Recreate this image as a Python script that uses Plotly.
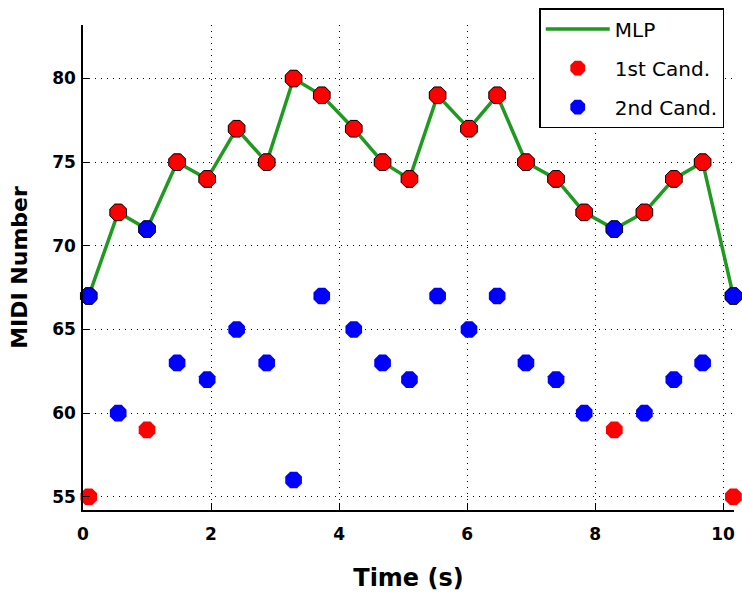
import plotly.graph_objects as go

time_s = [0.09, 0.55, 1.00, 1.47, 1.94, 2.40, 2.87, 3.29, 3.73, 4.23, 4.68, 5.10,
          5.54, 6.03, 6.47, 6.92, 7.39, 7.83, 8.30, 8.77, 9.23, 9.68, 10.16]
mlp = [67, 72, 71, 75, 74, 77, 75, 80, 79, 77, 75, 74,
       79, 77, 79, 75, 74, 72, 71, 72, 74, 75, 67]
cand1 = [55, 72, 59, 75, 74, 77, 75, 80, 79, 77, 75, 74,
         79, 77, 79, 75, 74, 72, 59, 72, 74, 75, 55]
cand2 = [67, 60, 71, 63, 62, 65, 63, 56, 67, 65, 63, 62,
         67, 65, 67, 63, 62, 60, 71, 60, 62, 63, 67]

x_ticks = [0, 2, 4, 6, 8, 10]
y_ticks = [55, 60, 65, 70, 75, 80]

GREEN = "#1f991f"
RED = "#ff0000"
BLUE = "#0000ff"
FONT = "DejaVu Sans"

# colour of the chosen candidate for each frame
chosen_colors = [RED if m == c1 else BLUE for m, c1 in zip(mlp, cand1)]

fig = go.Figure()
fig.add_trace(go.Scatter(x=time_s, y=mlp, mode="lines", name="MLP",
                         line=dict(color=GREEN, width=3.5),
                         legendgroup="a", cliponaxis=False))
fig.add_trace(go.Scatter(x=time_s, y=cand1, mode="markers", name="1st Cand.",
                         marker=dict(symbol="octagon", size=18, color=RED,
                                     line=dict(width=0)),
                         legendgroup="b", cliponaxis=False))
fig.add_trace(go.Scatter(x=time_s, y=cand2, mode="markers", name="2nd Cand.",
                         marker=dict(symbol="octagon", size=18, color=BLUE,
                                     line=dict(width=0)),
                         legendgroup="c", cliponaxis=False))
fig.add_trace(go.Scatter(x=time_s, y=mlp, mode="markers", showlegend=False,
                         marker=dict(symbol="octagon", size=18, color=chosen_colors,
                                     line=dict(width=1, color="black")),
                         legendgroup="d", cliponaxis=False))

grid_dash = "1px,5px"
fig.update_layout(
    width=742, height=596,
    margin=dict(l=83, r=8, t=20, b=86),
    paper_bgcolor="white", plot_bgcolor="white",
    font=dict(family=FONT, color="black"),
    showlegend=True,
    legend=dict(x=0.985, xanchor="right", y=1.035, yanchor="top",
                bgcolor="white", bordercolor="black", borderwidth=1.5,
                font=dict(size=20, family=FONT), itemwidth=64,
                tracegroupgap=10, traceorder="grouped"),
    xaxis=dict(range=[0, 10.17], tickvals=x_ticks, ticks="inside", ticklen=7,
               tickcolor="black", showline=True, linecolor="black", linewidth=1.5,
               showgrid=True, gridcolor="black", gridwidth=1, griddash=grid_dash,
               zeroline=False, tickfont=dict(size=17, family=FONT, weight="bold"),
               ticklabelstandoff=8,
               title=dict(text="Time (s)", font=dict(size=24, family=FONT, weight="bold"),
                          standoff=26)),
    yaxis=dict(range=[54.21, 83.2], tickvals=y_ticks, ticks="inside", ticklen=7,
               tickcolor="black", showline=True, linecolor="black", linewidth=1.5,
               showgrid=True, gridcolor="black", gridwidth=1, griddash=grid_dash,
               zeroline=False, tickfont=dict(size=17, family=FONT, weight="bold"),
               ticklabelstandoff=2,
               title=dict(text="MIDI Number", font=dict(size=22, family=FONT, weight="bold"),
                          standoff=18)),
)

fig.write_html("out.html")
